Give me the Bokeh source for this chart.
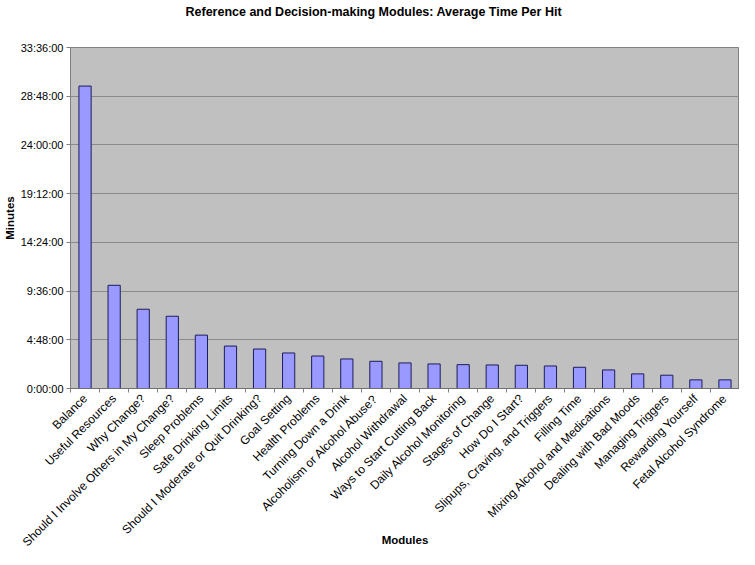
import math
from bokeh.plotting import figure
from bokeh.models import FixedTicker, ColumnDataSource, Range1d, Title
from bokeh.embed import file_html
from bokeh.resources import INLINE

modules = [
    "Balance", "Useful Resources", "Why Change?", "Should I Involve Others in My Change?",
    "Sleep Problems", "Safe Drinking Limits", "Should I Moderate or Quit Drinking?",
    "Goal Setting", "Health Problems", "Turning Down a Drink", "Alcoholism or Alcohol Abuse?",
    "Alcohol Withdrawal", "Ways to Start Cutting Back", "Daily Alcohol Monitoring",
    "Stages of Change", "How Do I Start?", "Slipups, Craving, and Triggers", "Filling Time",
    "Mixing Alcohol and Medications", "Dealing with Bad Moods", "Managing Triggers",
    "Rewarding Yourself", "Fetal Alcohol Syndrome",
]
# average minutes per hit
minutes = [29.8, 10.17, 7.81, 7.12, 5.26, 4.18, 3.89, 3.50, 3.20, 2.91, 2.68, 2.52,
           2.42, 2.35, 2.32, 2.29, 2.22, 2.09, 1.83, 1.44, 1.31, 0.85, 0.85]
y_ticks = [0, 4.8, 9.6, 14.4, 19.2, 24.0, 28.8, 33.6]
y_tick_labels = ["0:00:00", "4:48:00", "9:36:00", "14:24:00", "19:12:00",
                 "24:00:00", "28:48:00", "33:36:00"]
title_text = "Reference and Decision-making Modules:  Average Time Per Hit"

xs = list(range(len(modules)))
src = ColumnDataSource(dict(x=xs, top=minutes))

p = figure(width=739, height=549, output_backend="svg", toolbar_location=None,
           x_range=Range1d(-0.5, len(modules) - 0.5), y_range=Range1d(0, 33.6),
           min_border_left=62, min_border_right=0, min_border_top=45, min_border_bottom=161,
           background_fill_color="#C0C0C0", border_fill_color="white")

p.vbar(x="x", top="top", width=0.42, source=src, fill_color="#9999FF",
       line_color="#1c1c5c", line_width=1)

# title: default title hidden, a spacer title next to the frame, then the real title
p.title.text = ""
p.title.standoff = 0
p.title.text_font_size = "0px"
p.add_layout(Title(text=" ", text_font_size="1px", standoff=24), "above")
p.add_layout(Title(text=title_text, text_font="Liberation Sans", text_font_size="12.5px",
                   text_font_style="bold", text_color="black", align="left",
                   offset=115, standoff=4), "above")

p.outline_line_color = "#808080"
p.outline_line_width = 1

# grid
p.xgrid.grid_line_color = None
p.ygrid.grid_line_color = "#8a8a8a"
p.ygrid.grid_line_width = 1

# y axis
p.yaxis.ticker = FixedTicker(ticks=y_ticks)
p.yaxis.major_label_overrides = {t: l for t, l in zip(y_ticks, y_tick_labels)}
p.yaxis.minor_tick_line_color = None
p.yaxis.major_tick_in = 0
p.yaxis.major_tick_out = 4
p.yaxis.axis_line_color = "#808080"
p.yaxis.major_tick_line_color = "#808080"
p.yaxis.major_label_standoff = 3
p.yaxis.axis_label = "Minutes"
p.yaxis.axis_label_standoff = 2
p.yaxis.major_label_text_font_size = "11px"

# x axis: ticks between categories
boundaries = [i - 0.5 for i in range(len(modules) + 1)]
p.xaxis.ticker = FixedTicker(ticks=xs, minor_ticks=boundaries)
p.xaxis.major_label_overrides = {i: m for i, m in enumerate(modules)}
p.xaxis.major_label_orientation = math.pi / 4
p.xaxis.major_label_standoff = 4
p.xaxis.major_label_text_font_size = "12px"
p.xaxis.major_tick_in = 0
p.xaxis.major_tick_out = 0
p.xaxis.minor_tick_in = 0
p.xaxis.minor_tick_out = 4
p.xaxis.minor_tick_line_color = "#808080"
p.xaxis.axis_line_color = "#707070"
p.xaxis.axis_label = "Modules"
p.xaxis.axis_label_standoff = -23

for ax in (p.xaxis[0], p.yaxis[0]):
    ax.major_label_text_font = "Liberation Sans"
    ax.major_label_text_color = "black"
    ax.axis_label_text_font = "Liberation Sans"
    ax.axis_label_text_font_size = "11.5px"
    ax.axis_label_text_font_style = "bold"
    ax.axis_label_text_color = "black"

open("out.html", "w").write(file_html(p, INLINE))
